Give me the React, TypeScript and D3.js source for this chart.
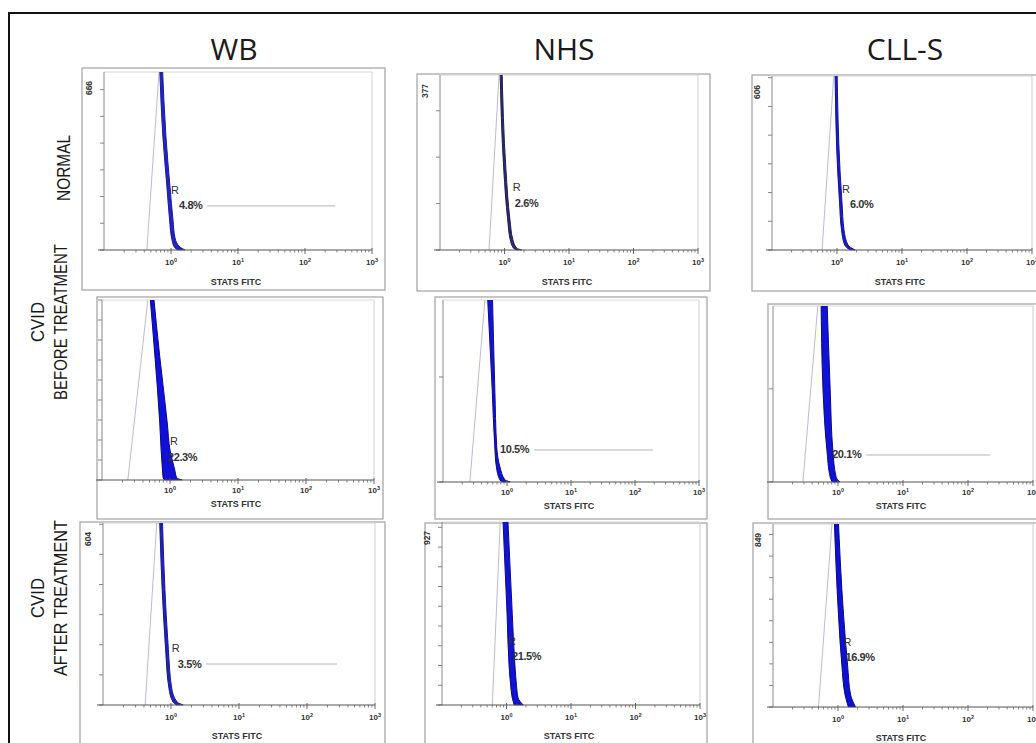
import React from 'react';
import * as d3 from 'd3';

// ---------- DATA ----------
const columnTitles = ['WB', 'NHS', 'CLL-S'];
const rowTitles: string[][] = [['NORMAL'], ['CVID', 'BEFORE TREATMENT'], ['CVID', 'AFTER TREATMENT']];
const decades = [0, 1, 2, 3];
const xAxisTitle = 'STATS FITC';

// per panel (row-major: WB, NHS, CLL-S for each row)
const yMax = [666, 377, 606, 900, 1733, 1890, 604, 927, 849];
const yMaxLabel = ['666', '377', '606', '', '', '', '604', '927', '849'];
const yTickStep = [100, 100, 100, 100, 1000, 1000, 100, 100, 100];
const percentLabels = ['4.8%', '2.6%', '6.0%', '22.3%', '10.5%', '20.1%', '3.5%', '21.5%', '16.9%'];
const showR = [true, true, true, true, false, false, true, true, true];
const gateStart = [0.12, 0.16, 0.2, -0.03, -0.11, -0.09, 0.1, 0.085, 0.116];
const gateEnd: (number | null)[] = [2.45, null, null, null, 2.28, 2.34, 2.44, null, null];
const gateLevel = [165, 101, 157, 115, 305, 290, 136, 244, 228];

// histogram outlines: count levels and log10(FITC) positions
const levels: number[][] = [
  [700, 423, 236, 112, 45, 11, 0],
  [400, 172, 65, 22, 4, 0],
  [640, 279, 164, 70, 17, 0],
  [950, 615, 285, 150, 50, 10, 0],
  [1850, 876, 333, 143, 19, 0],
  [1980, 990, 344, 54, 0],
  [640, 298, 189, 56, 10, 0],
  [980, 457, 203, 100, 36, 0],
  [900, 428, 195, 56, 0],
];
// control (isotype) rising edge: [log at 0 count, log at top level]
const ctrlLeft: [number, number][] = [
  [-0.36, -0.17],
  [-0.24, -0.075],
  [-0.23, -0.04],
  [-0.62, -0.31],
  [-0.58, -0.33],
  [-0.54, -0.3],
  [-0.38, -0.2],
  [-0.22, -0.09],
  [-0.3, -0.08],
];
const ctrlRight: number[][] = [
  [-0.17, -0.12, -0.06, -0.02, 0.01, 0.05, 0.1],
  [-0.07, -0.01, 0.05, 0.09, 0.14, 0.2],
  [-0.03, 0.01, 0.04, 0.07, 0.12, 0.2],
  [-0.3, -0.22, -0.15, -0.13, -0.11, -0.1, -0.08],
  [-0.31, -0.23, -0.19, -0.165, -0.11, -0.08],
  [-0.26, -0.23, -0.17, -0.12, -0.09],
  [-0.17, -0.11, -0.08, -0.03, 0.03, 0.08],
  [-0.06, 0.01, 0.04, 0.065, 0.09, 0.12],
  [-0.06, 0.008, 0.06, 0.11, 0.16],
];
const sampRight: number[][] = [
  [-0.13, -0.075, -0.015, 0.03, 0.06, 0.134, 0.21],
  [-0.04, 0.023, 0.085, 0.13, 0.19, 0.27],
  [0.0, 0.046, 0.077, 0.108, 0.17, 0.28],
  [-0.25, -0.15, -0.04, 0.0, 0.07, 0.1, 0.18],
  [-0.23, -0.19, -0.16, -0.11, -0.03, 0.05],
  [-0.17, -0.12, -0.08, -0.03, 0.03],
  [-0.13, -0.07, -0.04, 0.01, 0.09, 0.18],
  [0.015, 0.09, 0.13, 0.155, 0.18, 0.26],
  [0.0, 0.085, 0.147, 0.194, 0.27],
];

// ---------- LAYOUT ----------
const W = 1036;
const H = 743;
const panelBox = [
  [82, 68, 303, 222], [417, 74, 293, 217], [752, 75, 300, 216],
  [97, 297, 286, 222], [435, 297, 272, 222], [768, 304, 290, 215],
  [80, 522, 305, 240], [425, 523, 282, 240], [753, 523, 300, 240],
];
// xL, xR, yTop, yBase
const plotRect = [
  [104, 372, 72, 250], [440, 698, 75, 250], [772, 1032, 76, 250],
  [102, 374, 300, 480], [443, 699, 300, 482], [773, 1033, 306, 482],
  [103, 375, 523, 705], [442, 700, 522, 705], [773, 1033, 524, 707],
];
const rDx = [-8, -2, -8, 2, 0, 0, -6, -4, -2];
const tickLabelDy = [12, 10, 12];
const axisTitleDy = [32, 24, 31];
const colTitleX = [234, 564, 905];
const rowCenterY = [168, 322, 598];
const bandColor = ['#2323c8', '#2a2a7a', '#1c1cc8', '#1010d8', '#1414d0', '#1212d6', '#2222c0', '#1212d2', '#1010d4'];
const bandEdge = ['#1a1a9a', '#20204a', '#12129a', '#080890', '#0a0a90', '#0a0a8c', '#181890', '#0a0a8c', '#08088a'];
const PCT_SIZE = 11;

const FONT = "'Liberation Sans', Arial, sans-serif";

function boldWidth(s: string, size: number) {
  let w = 0;
  for (const ch of s) w += ch === '.' ? 0.278 : ch === '%' ? 0.889 : 0.556;
  return w * size;
}

function Panel({ i }: { i: number }) {
  const [bx, by, bw, bh] = panelBox[i];
  const [xL, xR, yT, yB] = plotRect[i];
  const row = Math.floor(i / 3);
  const x = d3.scaleLinear().domain([-1, 3]).range([xL, xR]);
  const y = d3.scaleLinear().domain([0, yMax[i]]).range([yB, yT]);
  const lv = levels[i];
  const top = lv[0];

  const leftLine = d3.line<[number, number]>()
    .x((d) => x(d[0]))
    .y((d) => y(d[1]))([
      [ctrlLeft[i][0], 0],
      [ctrlLeft[i][1], top],
      [ctrlRight[i][0], top],
    ]);
  const rightLine = d3.line<number>()
    .curve(d3.curveMonotoneY)
    .x((_, k) => x(ctrlRight[i][k]))
    .y((c) => y(c))(lv);
  const band = d3.area<number>()
    .curve(d3.curveMonotoneY)
    .y((c) => y(c))
    .x0((_, k) => x(ctrlRight[i][k]))
    .x1((_, k) => x(sampRight[i][k]))(lv);

  const yTicks = d3.range(0, yMax[i] + 1, yTickStep[i]);
  const minor: number[] = [];
  for (let k = -1; k < 3; k++) for (let m = 2; m <= 9; m++) minor.push(k + Math.log10(m));

  const gx0 = x(gateStart[i]);
  const gy = y(gateLevel[i]);
  const lineStart = gx0 + boldWidth(percentLabels[i], PCT_SIZE) + 3;
  const clipId = `clip${i}`;

  return (
    <g>
      <rect x={bx} y={by} width={bw} height={bh} fill="#fff" stroke="#a8a8a8" strokeWidth={1.3} />
      <defs>
        <clipPath id={clipId}>
          <rect x={xL} y={yT} width={xR - xL} height={yB - yT + 0.5} />
        </clipPath>
      </defs>
      {/* frame */}
      <line x1={xL} x2={xR} y1={yT} y2={yT} stroke="#d8d8d8" strokeWidth={1} />
      <line x1={xR} x2={xR} y1={yT} y2={yB} stroke="#cfcfcf" strokeWidth={1} />
      <line x1={xL} x2={xL} y1={yT} y2={yB} stroke="#8a8a8a" strokeWidth={1} />
      {/* y ticks */}
      {yTicks.map((t) => (
        <line key={t} x1={xL - 4} x2={xL} y1={y(t)} y2={y(t)} stroke="#777" strokeWidth={0.9} />
      ))}
      {yMaxLabel[i] && (
        <text
          transform={`translate(${xL - 12},${yT + 16}) rotate(-90)`}
          textAnchor="middle"
          fontSize={8.5}
          fontWeight="bold"
          fill="#333"
          fontFamily={FONT}
        >
          {yMaxLabel[i]}
        </text>
      )}
      <g clipPath={`url(#${clipId})`}>
        <path d={leftLine || ''} fill="none" stroke="#bcbccc" strokeWidth={1} />
        <path d={rightLine || ''} fill="none" stroke="#bcbccc" strokeWidth={1} />
        <path d={band || ''} fill={bandColor[i]} stroke={bandEdge[i]} strokeWidth={1} />
      </g>
      {/* gate marker */}
      {gateEnd[i] !== null && (
        <line x1={lineStart} x2={x(gateEnd[i] as number)} y1={gy} y2={gy} stroke="#b4b4b4" strokeWidth={1} />
      )}
      {showR[i] && (
        <text x={gx0 + rDx[i]} y={gy - 12} fontSize={11} fill="#333" fontFamily={FONT}>
          R
        </text>
      )}
      <text
        x={gx0}
        y={gy + 3.5}
        fontSize={PCT_SIZE}
        fontWeight="bold"
        fill="#333"
        fontFamily={FONT}
        letterSpacing={-0.4}
      >
        {percentLabels[i]}
      </text>
      {/* x axis */}
      <line x1={xL - 6} x2={xR} y1={yB} y2={yB} stroke="#555" strokeWidth={1} />
      {minor.map((m, k) => (
        <line key={k} x1={x(m)} x2={x(m)} y1={yB} y2={yB + 2.5} stroke="#666" strokeWidth={0.8} />
      ))}
      {decades.map((d) => (
        <g key={d}>
          <line x1={x(d)} x2={x(d)} y1={yB - 2} y2={yB + 4} stroke="#555" strokeWidth={0.9} />
          <text
            x={x(d)}
            y={yB + tickLabelDy[row] + 3}
            textAnchor="middle"
            fontSize={8}
            fontWeight="bold"
            fill="#333"
            fontFamily={FONT}
          >
            10<tspan fontSize={5.5} dy={-3}>{d}</tspan>
          </text>
        </g>
      ))}
      <text
        x={(xL + xR) / 2 - 2}
        y={yB + axisTitleDy[row] + 3}
        textAnchor="middle"
        fontSize={9}
        fontWeight="bold"
        fill="#333"
        fontFamily={FONT}
      >
        {xAxisTitle}
      </text>
    </g>
  );
}

export default function App() {
  return (
    <svg
      width={W}
      height={H}
      style={{ position: 'absolute', left: 0, top: 0, background: '#fff' }}
    >
      <rect x={0} y={0} width={W} height={H} fill="#fff" />
      <rect x={9} y={13} width={1200} height={900} fill="none" stroke="#111" strokeWidth={2} />
      {columnTitles.map((t, c) => (
        <text
          key={t}
          x={colTitleX[c]}
          y={60}
          textAnchor="middle"
          fontSize={30}
          fontFamily="'Open Sans', sans-serif"
          fill="#1a1a1a"
        >
          {t}
        </text>
      ))}
      {rowTitles.map((lines, r) => (
        <g key={r} transform={`translate(0,${rowCenterY[r]}) rotate(-90)`}>
          {lines.map((ln, k) => {
            const xc = lines.length === 1 ? 63 : k === 0 ? 37 : 60;
            return (
              <text
                key={k}
                x={0}
                y={xc}
                textAnchor="middle"
                dominantBaseline="central"
                fontSize={19}
                fontFamily={FONT}
                fill="#1a1a1a"
                textLength={ln.length > 6 ? 156 : ln === 'NORMAL' ? 66 : 40}
                lengthAdjust="spacingAndGlyphs"
              >
                {ln}
              </text>
            );
          })}
        </g>
      ))}
      {d3.range(9).map((i) => (
        <Panel key={i} i={i} />
      ))}
    </svg>
  );
}
